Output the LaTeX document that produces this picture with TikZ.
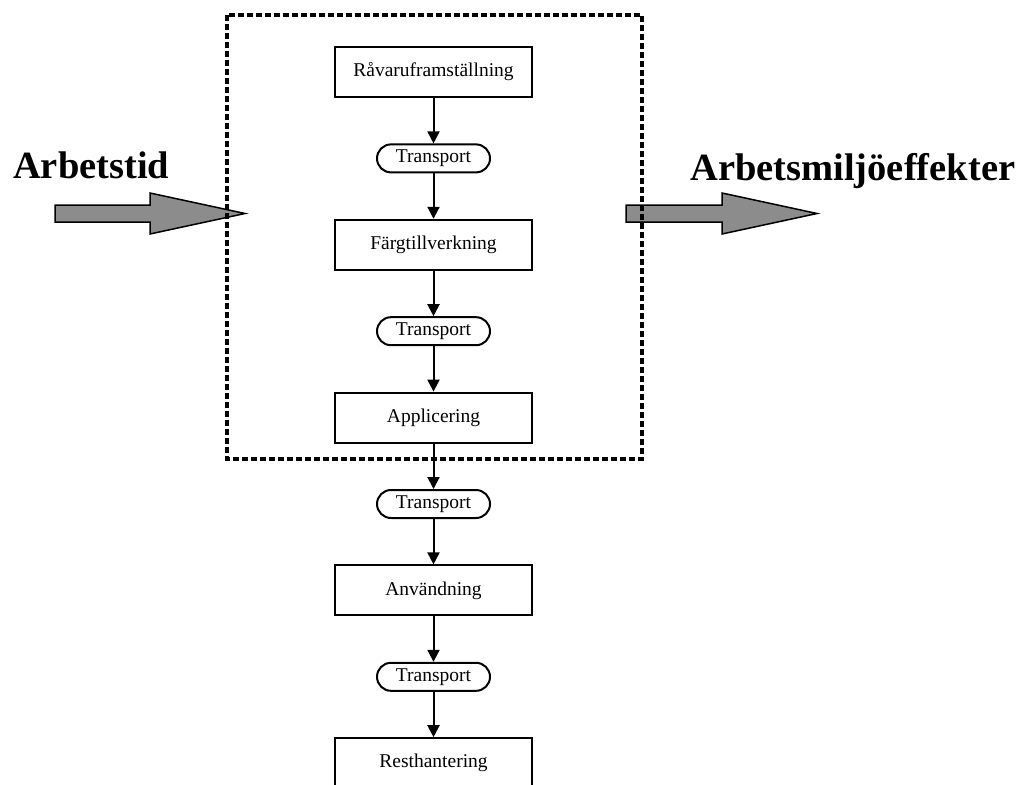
\documentclass[tikz,border=0pt]{standalone}
\usepackage{fontspec}
\setmainfont{Liberation Serif}
\usetikzlibrary{positioning, arrows.meta}
\tikzset{
  stage/.style={
    draw, line width=2pt, minimum width=197pt, minimum height=50pt,
    inner sep=0pt, font=\fontsize{19.5}{22}\selectfont
  },
  transport/.style={
    draw, line width=2pt, rounded corners=14pt, minimum width=113pt,
    minimum height=28pt, inner sep=0pt, font=\fontsize{19.5}{22}\selectfont
  },
  flow/.style={draw, line width=2pt, -{Triangle[length=12pt,width=12pt]}},
  bigarrow/.style={draw, line width=1.5pt, fill=black!45},
  title/.style={inner sep=0pt, font=\fontsize{38.5}{44}\selectfont\bfseries},
  frame/.style={draw, line width=4pt, dash pattern=on 6pt off 3pt},
}
\begin{document}
\begin{tikzpicture}[x=1pt, y=-1pt, node distance=45.4pt]
  \useasboundingbox (0,0) rectangle (1027,784);

  % process chain
  \node[stage] (raw) at (433.5,72) {Råvaruframställning};
  \node[transport, below=of raw] (t1) {Transport};
  \node[stage, below=of t1] (paint) {Färgtillverkning};
  \node[transport, below=of paint] (t2) {Transport};
  \node[stage, below=of t2] (appl) {Applicering};
  \node[transport, below=of appl] (t3) {Transport};
  \node[stage, below=of t3] (use) {Användning};
  \node[transport, below=of use] (t4) {Transport};
  \node[stage, below=of t4] (rest) {Resthantering};

  \path (raw) edge[flow] (t1)
        (t1) edge[flow] (paint)
        (paint) edge[flow] (t2)
        (t2) edge[flow] (appl)
        (appl) edge[flow] (t3)
        (t3) edge[flow] (use)
        (use) edge[flow] (t4)
        (t4) edge[flow] (rest);

  % in and out
  \node[title, anchor=base west] (worktime) at (13,178) {Arbetstid};
  \node[title, anchor=base west] (effects) at (690,180) {Arbetsmiljöeffekter};
  \draw[bigarrow] (55,205) -- (150,205) -- (150,193) -- (245,213.5)
    -- (150,234) -- (150,222) -- (55,222) -- cycle;
  \draw[bigarrow] (626,205) -- (722,205) -- (722,193) -- (817,213.5)
    -- (722,234) -- (722,222) -- (626,222) -- cycle;

  % system boundary
  \draw[frame] (227,15) rectangle (642,459);
\end{tikzpicture}
\end{document}
